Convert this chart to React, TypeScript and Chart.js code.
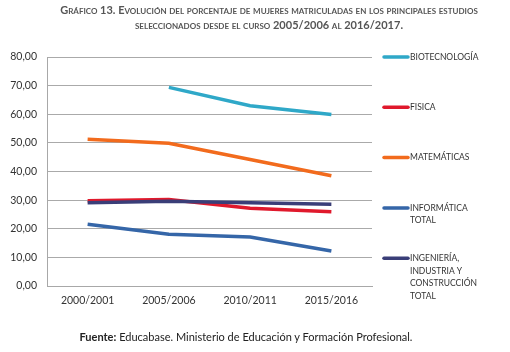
import React, { useEffect, useRef } from "react";
import { Chart, registerables } from "chart.js";
Chart.register(...registerables);

const categories = ["2000/2001", "2005/2006", "2010/2011", "2015/2016"];
const biotecnologia = [null, 69.4, 63.0, 59.9];
const fisica = [29.8, 30.2, 27.2, 25.9];
const matematicas = [51.3, 49.9, 44.2, 38.5];
const informatica = [21.6, 18.1, 17.1, 12.2];
const ingenieria = [29.1, 29.6, 29.1, 28.6];
const seriesLabels = [
  ["BIOTECNOLOGÍA"],
  ["FISICA"],
  ["MATEMÁTICAS"],
  ["INFORMÁTICA", "TOTAL"],
  ["INGENIERÍA,", "INDUSTRIA Y", "CONSTRUCCIÓN", "TOTAL"],
];
const seriesColors = ["#2fa8c8", "#e0192c", "#f26b1d", "#3566a8", "#3a3e78"];
const seriesData = [biotecnologia, fisica, matematicas, informatica, ingenieria];

const FONT = "Lato, 'Liberation Sans', sans-serif";

const legendPlugin = {
  id: "sideLegend",
  afterDraw(chart: any) {
    const { ctx, chartArea } = chart;
    ctx.save();
    const x0 = chartArea.right + 12;
    seriesLabels.forEach((lines, i) => {
      const y = chartArea.top + i * 50.3;
      ctx.strokeStyle = seriesColors[i];
      ctx.lineWidth = 3.5;
      ctx.lineCap = "round";
      ctx.beginPath();
      ctx.moveTo(x0, y);
      ctx.lineTo(x0 + 24, y);
      ctx.stroke();
      ctx.fillStyle = "#333";
      ctx.font = "8.5px " + FONT;
      ctx.textBaseline = "middle";
      ctx.textAlign = "left";
      lines.forEach((t, j) => ctx.fillText(t, x0 + 26, y + j * 12.6));
    });
    ctx.restore();
  },
};

export default function App() {
  const ref = useRef<HTMLCanvasElement>(null);
  useEffect(() => {
    const chart = new Chart(ref.current!, {
      type: "line",
      data: {
        labels: categories,
        datasets: seriesData.map((d, i) => ({
          label: seriesLabels[i].join(" "),
          data: d,
          borderColor: seriesColors[i],
          backgroundColor: seriesColors[i],
          borderWidth: 3.5,
          pointRadius: 0,
          tension: 0,
          fill: false,
          order: i === 4 ? -1 : i,
        })),
      },
      options: {
        animation: false,
        responsive: false,
        maintainAspectRatio: false,
        layout: { padding: { left: 0, top: 57, right: 138, bottom: 36 } },
        plugins: { legend: { display: false }, tooltip: { enabled: false } },
        scales: {
          x: {
            offset: true,
            grid: { display: false, drawTicks: false },
            border: { display: true, color: "#a8a8a8", width: 1 },
            ticks: { color: "#333", font: { family: FONT, size: 10.5 }, padding: 8 },
            afterFit: (s: any) => { s.height = 30; },
          },
          y: {
            min: 0,
            max: 80,
            ticks: {
              stepSize: 10,
              color: "#333",
              font: { family: FONT, size: 10.5 },
              padding: 10,
              callback: (v: any) => Number(v).toFixed(2).replace(".", ","),
            },
            grid: { color: "#aaaaaa", lineWidth: 1, drawTicks: false },
            border: { display: true, color: "#a8a8a8", width: 1 },
            afterFit: (s: any) => { s.width = 47; },
          },
        },
      },
      plugins: [legendPlugin],
    });
    return () => chart.destroy();
  }, []);

  return (
    <div style={{ position: "absolute", left: 0, top: 0, width: 510, height: 352, background: "#fff" }}>
      <canvas ref={ref} width={510} height={352} style={{ position: "absolute", left: 0, top: 0 }} />
      <div
        style={{
          position: "absolute",
          left: 14,
          top: 2,
          width: 510,
          textAlign: "center",
          fontFamily: FONT,
          fontWeight: "bold",
          fontSize: 11,
          fontVariant: "small-caps",
          color: "#555",
          lineHeight: "15px",
        }}
      >
        Gráfico 13. Evolución del porcentaje de mujeres matriculadas en los principales estudios
        <br />
        seleccionados desde el curso 2005/2006 al 2016/2017.
      </div>
      <div
        style={{
          position: "absolute",
          left: 0,
          top: 330,
          width: 492,
          textAlign: "center",
          fontFamily: FONT,
          fontSize: 11,
          color: "#222",
        }}
      >
        <b>Fuente:</b> Educabase. Ministerio de Educación y Formación Profesional.
      </div>
    </div>
  );
}
